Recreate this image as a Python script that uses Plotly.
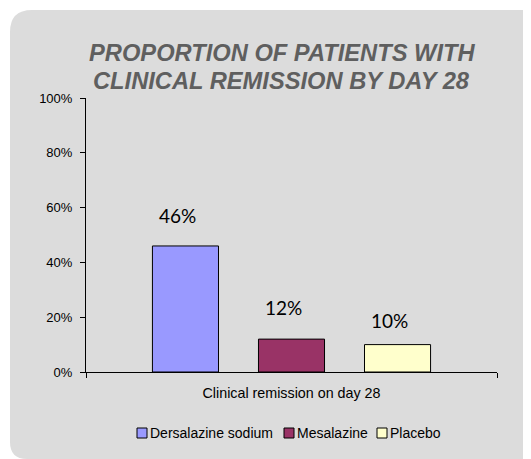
import plotly.graph_objects as go

categories = ["Clinical remission on day 28"]
series_names = ["Dersalazine sodium", "Mesalazine", "Placebo"]
series_values = [0.46, 0.12, 0.10]
series_colors = ["#9999FF", "#993366", "#FFFFCC"]
label_shift = [30, 32, 24]
y_ticks = [0, 0.2, 0.4, 0.6, 0.8, 1.0]
title_lines = ["PROPORTION OF PATIENTS WITH", "CLINICAL REMISSION BY DAY 28"]

W, H = 523, 451
L, R, T, B = 78, 34, 90, 87
pw, ph = W - L - R, H - T - B

def px(x):
    return (x - L) / pw

def py(y):
    return (H - B - y) / ph

fig = go.Figure()
for name, val, col in zip(series_names, series_values, series_colors):
    fig.add_trace(go.Bar(
        x=categories, y=[val], name=name,
        marker=dict(color=col, line=dict(color="black", width=1)),
        showlegend=False,
    ))

for i, (val, sh) in enumerate(zip(series_values, label_shift)):
    fig.add_annotation(
        x=categories[0], y=val, text=f"{round(val*100)}%",
        showarrow=False, yanchor="middle", yshift=sh,
        xshift=(i - 1) * 106 - 8,
        font=dict(family="Lato, Arial", size=19, color="black"),
    )

# rounded gray background panel
x0, x1, y0, y1, r1, r2 = 2, 523, 2, 451, 22, 17
path = (f"M {px(x0)},{py(y0 + r1)} Q {px(x0)},{py(y0)} {px(x0 + r1)},{py(y0)} "
        f"L {px(x1 - 4)},{py(y0)} Q {px(x1)},{py(y0)} {px(x1)},{py(y0 + 4)} "
        f"L {px(x1)},{py(y1)} L {px(x0 + r2)},{py(y1)} "
        f"Q {px(x0)},{py(y1)} {px(x0)},{py(y1 - r2)} Z")
fig.add_shape(type="path", xref="paper", yref="paper", path=path,
              fillcolor="#DCDCDC", line=dict(width=0), layer="below")

# title, one annotation per line for exact line spacing
for line, ty in zip(title_lines, [45.3, 73.3]):
    fig.add_annotation(xref="paper", yref="paper", x=px(273.5), y=py(ty),
                       xanchor="center", yanchor="middle", showarrow=False,
                       text=f"<b><i>{line}</i></b>",
                       font=dict(family="Arial, Liberation Sans", size=23.7,
                                 color="#5F5F5F"))

# legend (drawn manually to match compact spacing)
legend_x = [129, 276, 369]
for name, col, lx in zip(series_names, series_colors, legend_x):
    fig.add_shape(type="rect", xref="paper", yref="paper",
                  x0=px(lx), x1=px(lx + 10), y0=py(420), y1=py(430),
                  fillcolor=col, line=dict(color="black", width=1))
    fig.add_annotation(xref="paper", yref="paper", x=px(lx + 11), y=py(424.7),
                       xanchor="left", yanchor="middle", showarrow=False,
                       text=name, font=dict(size=14, color="black"))

fig.update_layout(
    width=W, height=H,
    margin=dict(l=L, r=R, t=T, b=B),
    paper_bgcolor="white",
    plot_bgcolor="rgba(0,0,0,0)",
    barmode="group", bargap=0.226, bargroupgap=0.377,
    font=dict(family="Arial, Liberation Sans", size=13, color="black"),
    showlegend=False,
    xaxis=dict(showline=True, linecolor="black", linewidth=1,
               ticks="outside", ticklen=5, tickcolor="black",
               tickson="boundaries", ticklabelstandoff=8,
               tickfont=dict(size=14.3),
               showgrid=False, zeroline=False, fixedrange=True),
    yaxis=dict(range=[0, 1], tickvals=y_ticks, tickformat=".0%",
               showline=True, linecolor="black", linewidth=1,
               ticks="outside", ticklen=5, tickcolor="black",
               ticklabelstandoff=5, tickfont=dict(size=13),
               showgrid=False, zeroline=False, fixedrange=True),
)

fig.write_html("out.html")
